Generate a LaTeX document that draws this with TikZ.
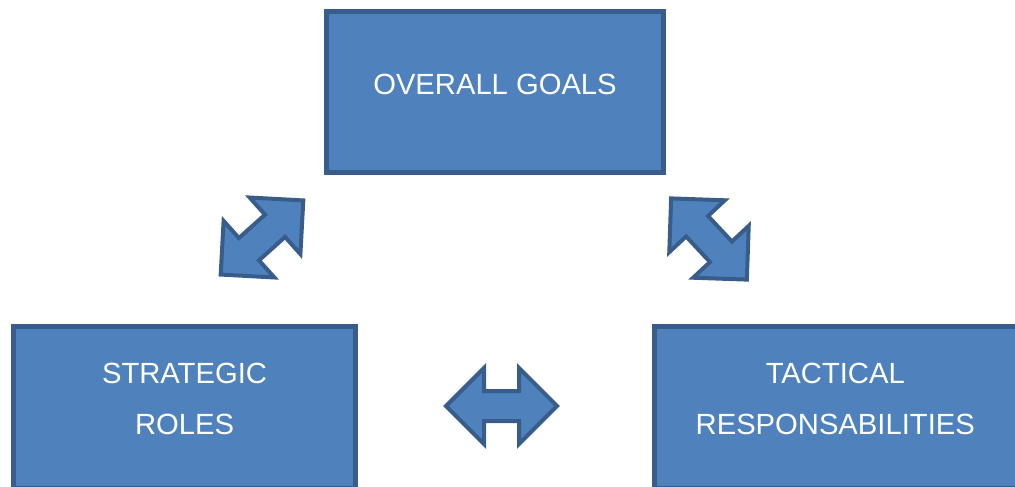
\documentclass[tikz,border=0pt]{standalone}
\usepackage{fontspec}
\setmainfont{Liberation Sans}

\definecolor{boxfill}{HTML}{4F81BD}
\definecolor{boxline}{HTML}{385D8A}

\tikzset{
    dblarr/.pic={
        \path[draw=boxline, fill=boxfill, line width=4pt, line join=miter]
            (-55.5,0) -- (-17.5,38) -- (-17.5,15) -- (17.5,15) -- (17.5,38)
            -- (55.5,0) -- (17.5,-38) -- (17.5,-15) -- (-17.5,-15)
            -- (-17.5,-38) -- cycle;
    }
}

\begin{document}
\begin{tikzpicture}[x=1pt, y=-1pt,
    box/.style={draw=boxline, fill=boxfill, line width=5pt, inner sep=0pt},
    boxtxt/.style={text=white, font=\fontsize{29.2}{51}\selectfont, align=center, inner sep=0pt}]
    \useasboundingbox (0,0) rectangle (1015,487);
    % boxes
    \node[box, minimum width=337pt, minimum height=161pt] (goals) at (495,92) {};
    \node[box, minimum width=342pt, minimum height=161.5pt] (roles) at (184.5,407.25) {};
    \node[box, minimum width=365.5pt, minimum height=161.5pt] (tactics) at (837.25,407.25) {};
    \node[boxtxt] (goals-txt) at ([yshift=8pt]goals.center) {OVERALL GOALS};
    \node[boxtxt] (roles-txt) at ([yshift=8.25pt]roles.center) {STRATEGIC\\ROLES};
    \node[boxtxt] (tactics-txt) at ([xshift=-2pt, yshift=8.25pt]tactics.center) {TACTICAL\\RESPONSABILITIES};
    % arrows between them
    \pic[rotate=41.9] (goals-roles) at (262,237.5) {dblarr};
    \pic[rotate=-47] (goals-tactics) at (709,239) {dblarr};
    \pic (roles-tactics) at (501.5,406) {dblarr};
\end{tikzpicture}
\end{document}
